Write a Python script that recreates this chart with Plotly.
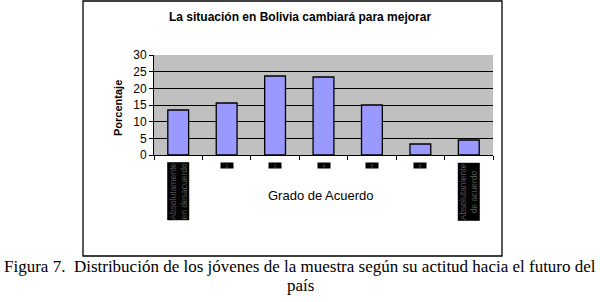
import plotly.graph_objects as go

categories = ["Absolutamente<br>en desacuerdo", "2", "3", "4", "5", "6", "Absolutamente<br>de acuerdo"]
values = [13.5, 15.6, 23.7, 23.4, 15.0, 3.3, 4.5]
y_ticks = [0, 5, 10, 15, 20, 25, 30]

title_text = "La situación en Bolivia cambiará para mejorar"
y_title = "Porcentaje"
x_title = "Grado de Acuerdo"
caption_lines = ["Figura 7.\u00a0 Distribución de los jóvenes de la muestra según su actitud hacia el futuro del", "país"]

# plot area: x 154..493 px, y 55..155 px
L, R, T, B = 154, 493, 55, 155
W, H = R - L, B - T
def px(x):
    return (x - L) / W
def py(y):
    return (B - y) / H

fig = go.Figure()
fig.add_trace(go.Bar(
    x=list(range(len(categories))), y=values,
    marker=dict(color="#9999FF", line=dict(color="black", width=1.3)),
    width=0.43,
))

sans = "Liberation Sans, Arial"
serif = "Liberation Serif"
C = dict(xanchor="center", yanchor="middle", xref="paper", yref="paper", showarrow=False)
annotations = [
    dict(text="<b>" + title_text + "</b>", x=px(300), y=py(17),
         font=dict(family=sans, size=12, color="black"), **C),
    dict(text="<b>" + y_title + "</b>", x=px(118), y=py(108), textangle=-90,
         font=dict(family=sans, size=11, color="black"), **C),
    dict(text=x_title, x=px(321), y=py(195),
         font=dict(family=sans, size=13, color="black"), **C),
]
for k, line in enumerate(caption_lines):
    annotations.append(dict(text=line, x=px(300), y=py(266 + 19 * k),
                            font=dict(family=serif, size=17, color="black"), **C))

for i, lab in enumerate(categories):
    if "<br>" in lab:
        annotations.append(dict(text=lab, x=i, y=py(162), xref="x", yref="paper",
                                xanchor="center", yanchor="top", showarrow=False, textangle=-90,
                                bgcolor="black", borderpad=0,
                                font=dict(family=sans, size=8.5, color="#555555")))
    else:
        annotations.append(dict(text=lab, x=i, y=py(165.5), xref="x", yref="paper",
                                xanchor="center", yanchor="middle", showarrow=False, width=12, height=5,
                                bgcolor="black", borderpad=0,
                                font=dict(family=sans, size=5, color="#555555")))

shapes = [
    dict(type="rect", xref="paper", yref="paper", x0=px(83), x1=px(502), y0=py(256), y1=py(1),
         line=dict(color="black", width=1.3), fillcolor="rgba(0,0,0,0)", layer="below"),
]

fig.update_layout(
    width=600, height=302,
    margin=dict(l=L, r=600 - R, t=T, b=302 - B),
    paper_bgcolor="white", plot_bgcolor="#C0C0C0",
    showlegend=False,
    annotations=annotations, shapes=shapes,
    xaxis=dict(range=[-0.5, len(categories) - 0.5], tickvals=[i + 0.5 for i in range(-1, len(categories))],
               showticklabels=False, ticks="outside", ticklen=4, tickcolor="black",
               showline=True, linecolor="black", linewidth=1, showgrid=False, zeroline=False, fixedrange=True),
    yaxis=dict(range=[0, 30], tickvals=y_ticks, ticks="outside", ticklen=4, tickcolor="black",
               showline=True, linecolor="black", linewidth=1, showgrid=True, gridcolor="black", gridwidth=1,
               zeroline=False, tickfont=dict(family=sans, size=12, color="black"),
               fixedrange=True),
)

fig.write_html("out.html", config={"displayModeBar": False},
               post_script="document.body.style.margin='0';document.body.style.overflow='hidden';")
